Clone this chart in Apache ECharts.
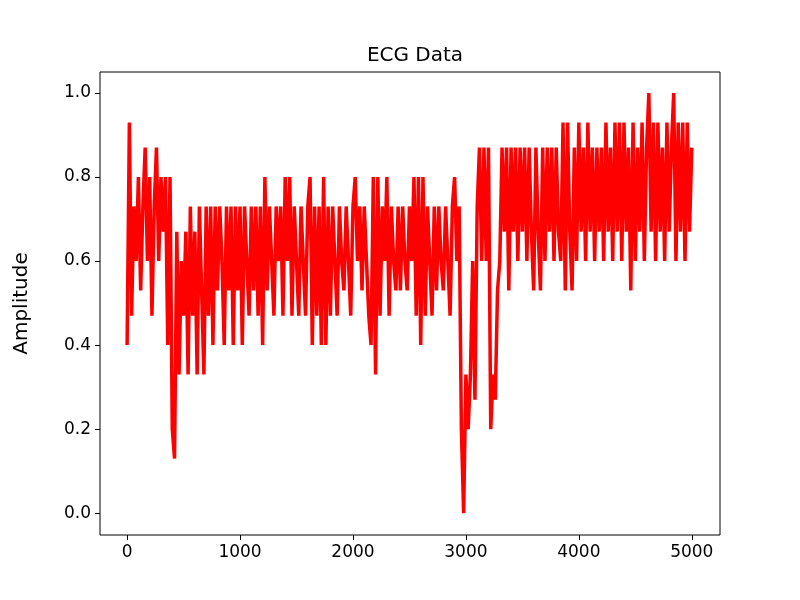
<!DOCTYPE html>
<html><head><meta charset="utf-8">
<script src="https://cdn.jsdelivr.net/npm/echarts@6/dist/echarts.min.js"></script>
<style>html,body{margin:0;padding:0;background:#fff}#c{width:800px;height:600px}</style>
</head><body><div id="c"></div>
<script>
const sampleStep = 20;
const amplitude = [
0.4,0.93,0.47,0.73,0.6,0.8,0.53,0.73,0.87,0.6,
0.8,0.47,0.73,0.87,0.6,0.8,0.67,0.8,0.4,0.8,
0.2,0.13,0.67,0.33,0.6,0.47,0.67,0.33,0.73,0.47,
0.67,0.33,0.73,0.53,0.33,0.73,0.47,0.73,0.4,0.73,
0.53,0.73,0.6,0.4,0.73,0.53,0.73,0.4,0.73,0.53,
0.73,0.4,0.73,0.6,0.47,0.73,0.53,0.73,0.47,0.73,
0.4,0.8,0.53,0.73,0.6,0.47,0.73,0.6,0.73,0.47,
0.8,0.6,0.8,0.47,0.73,0.6,0.47,0.73,0.6,0.47,
0.73,0.8,0.4,0.73,0.47,0.73,0.4,0.8,0.4,0.73,
0.47,0.73,0.6,0.47,0.73,0.6,0.53,0.73,0.6,0.47,
0.73,0.8,0.6,0.73,0.53,0.73,0.6,0.47,0.4,0.8,
0.33,0.8,0.47,0.73,0.6,0.8,0.47,0.73,0.6,0.53,
0.73,0.53,0.73,0.6,0.53,0.73,0.6,0.8,0.47,0.8,
0.4,0.8,0.47,0.73,0.6,0.47,0.73,0.53,0.73,0.6,
0.53,0.73,0.6,0.47,0.73,0.8,0.6,0.73,0.2,0.0,
0.33,0.2,0.33,0.6,0.27,0.73,0.87,0.6,0.87,0.6,
0.87,0.2,0.33,0.27,0.53,0.6,0.87,0.67,0.87,0.53,
0.87,0.67,0.87,0.6,0.87,0.67,0.87,0.6,0.87,0.67,
0.53,0.87,0.67,0.53,0.87,0.6,0.87,0.67,0.87,0.6,
0.87,0.67,0.6,0.93,0.53,0.93,0.67,0.53,0.87,0.6,
0.93,0.67,0.87,0.6,0.93,0.67,0.87,0.6,0.87,0.67,
0.87,0.6,0.93,0.67,0.87,0.6,0.93,0.67,0.93,0.6,
0.93,0.67,0.87,0.53,0.93,0.6,0.87,0.67,0.93,0.6,
0.87,1.0,0.67,0.93,0.6,0.93,0.67,0.87,0.6,0.93,
0.67,0.87,1.0,0.6,0.93,0.67,0.93,0.6,0.93,0.67,
0.87];
const xTicks = [0,1000,2000,3000,4000,5000];
const yTicks = [0.0,0.2,0.4,0.6,0.8,1.0];
const seriesData = amplitude.map((v,i)=>[i*sampleStep, v]);
const chart = echarts.init(document.getElementById('c'));
const lbl = {color:'#000', fontSize:17, fontFamily:'DejaVu Sans'};
chart.setOption({
  animation:false,
  title:{text:'ECG Data', left:410, top:41, textAlign:'center',
    textStyle:{fontSize:20, fontWeight:'normal', color:'#000', fontFamily:'DejaVu Sans'}},
  grid:{left:100, right:80, top:72, bottom:65, show:true, borderColor:'#000', borderWidth:1},
  xAxis:{type:'value', min:-240, max:5250,
    axisLine:{show:false, onZero:false}, splitLine:{show:false},
    axisTick:{show:true, inside:false, length:5, lineStyle:{color:'#000'}, customValues:xTicks},
    axisLabel:Object.assign({customValues:xTicks, margin:9, formatter:v=>String(v)}, lbl)},
  yAxis:{type:'value', min:-0.052, max:1.05, name:'Amplitude', nameLocation:'middle', nameGap:68,
    nameTextStyle:{fontSize:20, color:'#000', fontFamily:'DejaVu Sans'},
    axisLine:{show:false, onZero:false}, splitLine:{show:false},
    axisTick:{show:true, inside:false, length:5, lineStyle:{color:'#000'}, customValues:yTicks},
    axisLabel:Object.assign({customValues:yTicks, margin:9, formatter:v=>v.toFixed(1)}, lbl)},
  series:[{type:'line', data:seriesData, showSymbol:false, lineStyle:{color:'#ff0000', width:3.5}, itemStyle:{color:'#ff0000'}}]
});
</script></body></html>
